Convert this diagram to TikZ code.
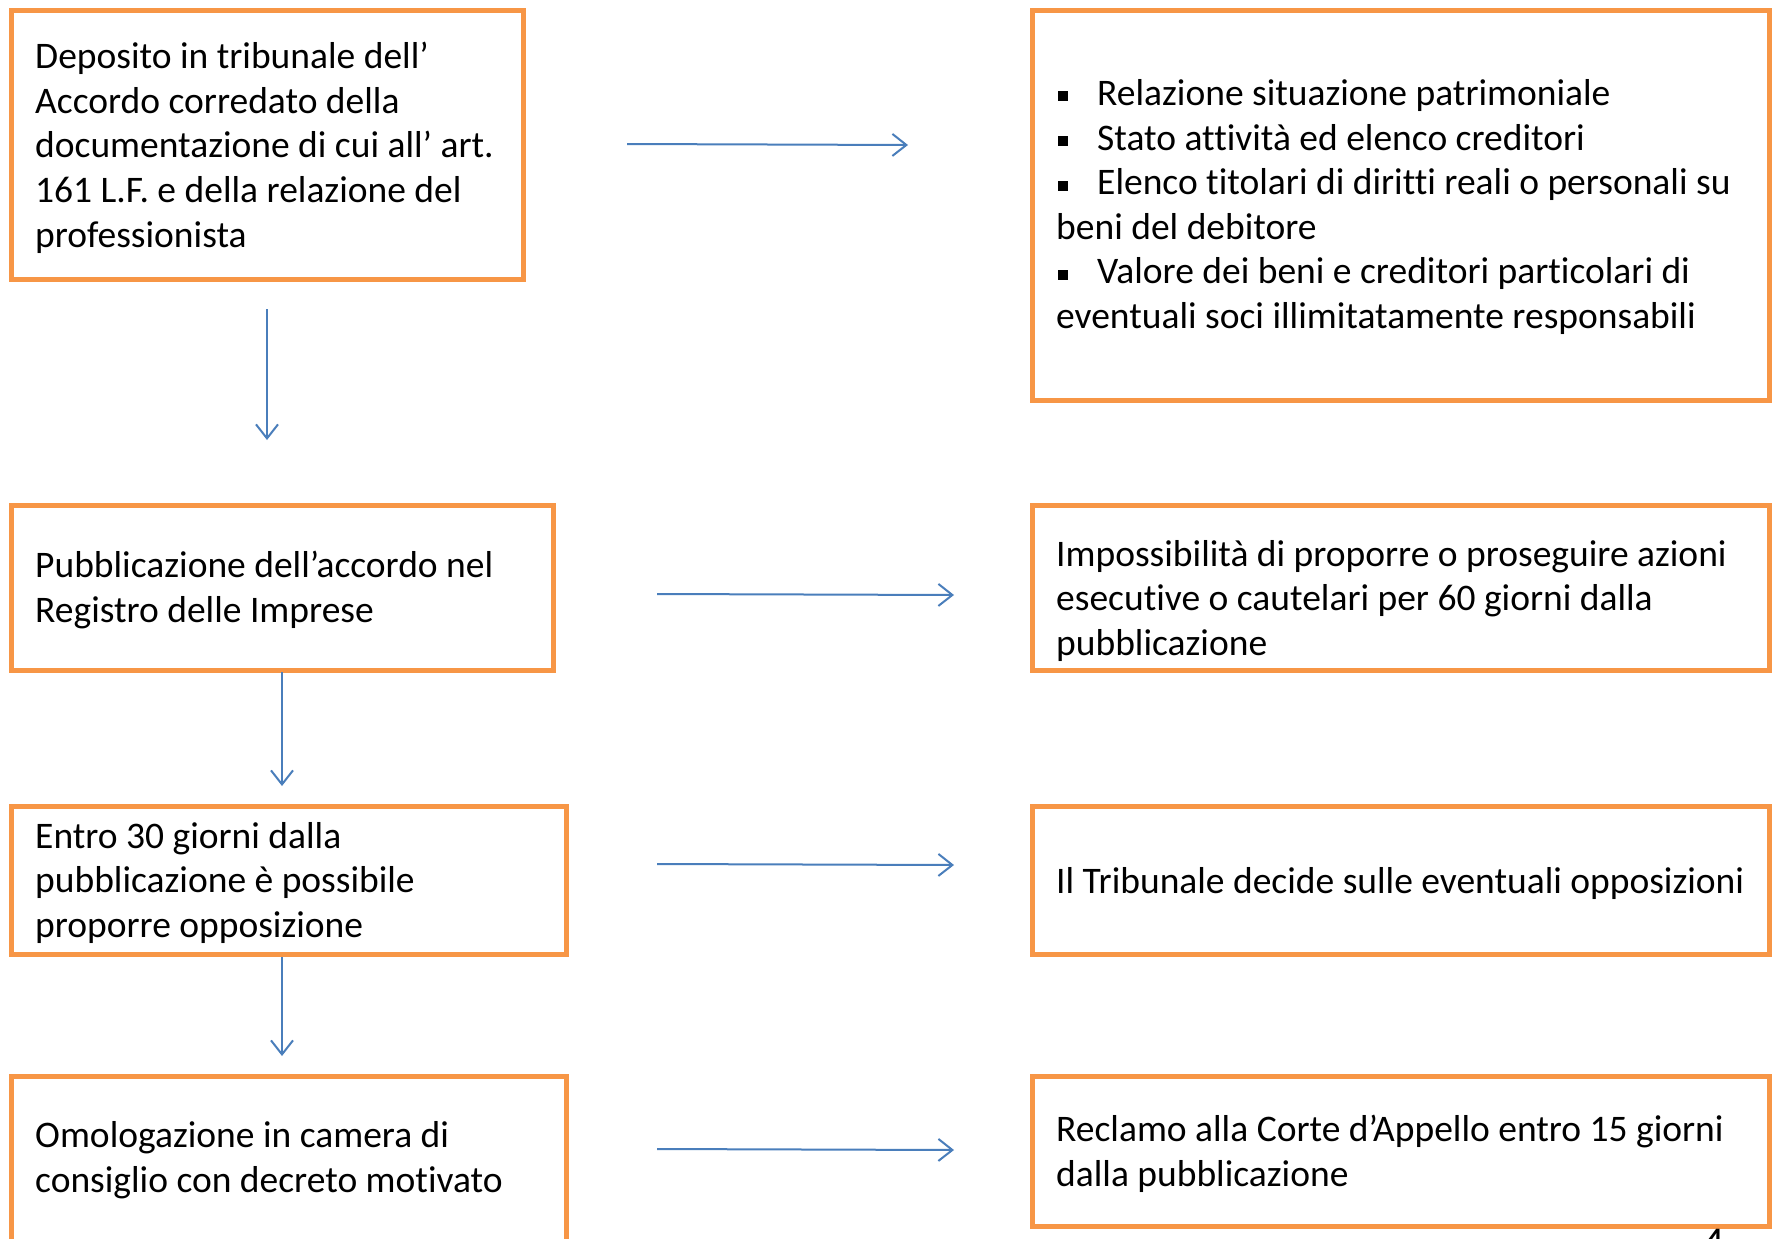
\documentclass[tikz,border=0pt]{standalone}
\usepackage{fontspec}
\setmainfont[Ligatures=NoCommon]{Carlito}
\usetikzlibrary{arrows.meta}
\definecolor{boxorange}{HTML}{F79646}
\definecolor{arrblue}{HTML}{4A7EBB}
\newcommand{\myl}{\strut}
\newcommand{\sqb}{\makebox[41pt][l]{\hspace{2pt}\raisebox{4pt}{\rule{10pt}{10pt}}}}
\tikzset{
  box/.style={draw=boxorange, line width=5pt, rectangle, inner sep=0pt, fill=none},
  txt/.style={align=left, inner sep=0pt, anchor=west, font=\fontsize{37.5}{44.6}\selectfont},
  arr/.style={draw=arrblue, line width=2pt, -{Straight Barb[length=14pt,width=22pt,line width=2pt]}}
}
\begin{document}
\begin{tikzpicture}[x=1pt,y=-1pt]
\useasboundingbox (0,0) rectangle (1780,1239);
\clip (0,0) rectangle (1780,1239);
% left boxes
\node[box, minimum width=512, minimum height=268] (b1) at (267,145) {};
\node[box, minimum width=542, minimum height=165] (b2) at (282,587.5) {};
\node[box, minimum width=555, minimum height=148] (b3) at (288.5,880) {};
\node[box, minimum width=555, minimum height=200] (b4) at (288.5,1176) {};
% right boxes
\node[box, minimum width=737, minimum height=389] (r1) at (1400.5,205.5) {};
\node[box, minimum width=737, minimum height=165] (r2) at (1400.5,587.5) {};
\node[box, minimum width=737, minimum height=148] (r3) at (1400.5,880) {};
\node[box, minimum width=737, minimum height=150] (r4) at (1400.5,1151) {};
% texts
\node[txt] (t1) at (35,149) {\myl Deposito in tribunale dell’\\\myl Accordo corredato della\\\myl documentazione di cui all’ art.\\\myl 161 L.F. e della relazione del\\\myl professionista};
\node[txt] (t2) at (35,591) {\myl Pubblicazione dell’accordo nel\\\myl Registro delle Imprese};
\node[txt] (t3) at (35,884) {\myl Entro 30 giorni dalla\\\myl pubblicazione è possibile\\\myl proporre opposizione};
\node[txt] (t4) at (35,1161) {\myl Omologazione in camera di\\\myl consiglio con decreto motivato};
\node[txt] (s1) at (1056,208) {\myl\sqb Relazione situazione patrimoniale\\\myl\sqb Stato attività ed elenco creditori\\\myl\sqb Elenco titolari di diritti reali o personali su\\\myl beni del debitore\\\myl\sqb Valore dei beni e creditori particolari di\\\myl eventuali soci illimitatamente responsabili};
\node[txt] (s2) at (1056,602) {\myl Impossibilità di proporre o proseguire azioni\\\myl esecutive o cautelari per 60 giorni dalla\\\myl pubblicazione};
\node[txt] (s3) at (1056,885) {\myl Il Tribunale decide sulle eventuali opposizioni};
\node[txt] (s4) at (1056,1155) {\myl Reclamo alla Corte d’Appello entro 15 giorni\\\myl dalla pubblicazione};
% page number, cut at the bottom
\node[anchor=north, inner sep=0pt, font=\fontsize{44}{50}\selectfont] (pg) at (1714,1229) {4};
% arrow ends
\coordinate (h1s) at (627,144); \coordinate (h1e) at (908,145);
\coordinate (h2s) at (657,594); \coordinate (h2e) at (954,595);
\coordinate (h3s) at (657,864); \coordinate (h3e) at (954,865);
\coordinate (h4s) at (657,1149); \coordinate (h4e) at (954,1150);
\coordinate (v1s) at (267,309); \coordinate (v1e) at (267,440);
\coordinate (v2s) at (282,672); \coordinate (v2e) at (282,786);
\coordinate (v3s) at (282,957); \coordinate (v3e) at (282,1056);
\draw[arr] (h1s) -- (h1e);
\draw[arr] (h2s) -- (h2e);
\draw[arr] (h3s) -- (h3e);
\draw[arr] (h4s) -- (h4e);
\draw[arr] (v1s) -- (v1e);
\draw[arr] (v2s) -- (v2e);
\draw[arr] (v3s) -- (v3e);
\end{tikzpicture}
\end{document}
